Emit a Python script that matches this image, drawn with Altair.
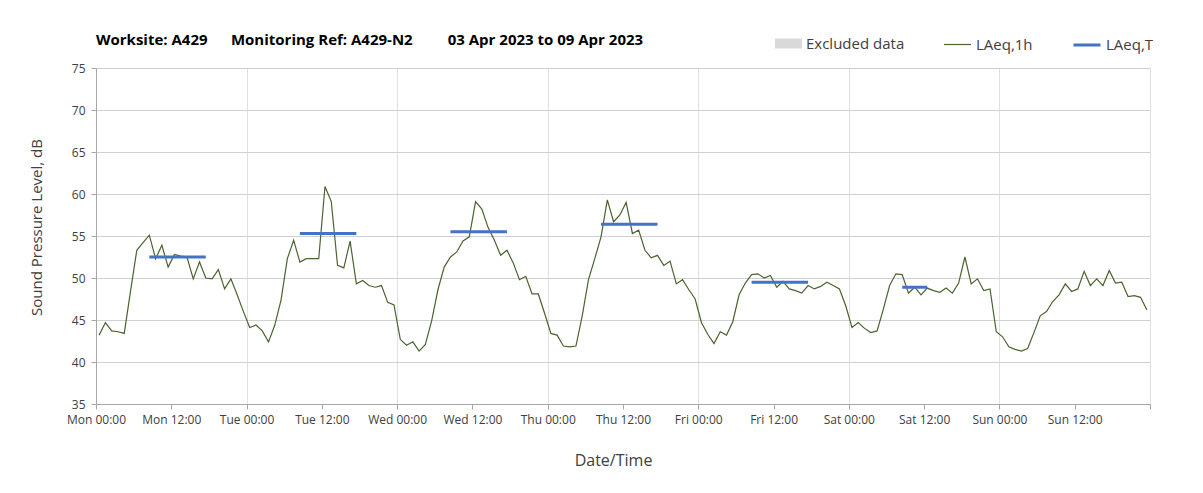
import altair as alt
import pandas as pd

# ---- data ----
days = ["Mon", "Tue", "Wed", "Thu", "Fri", "Sat", "Sun"]
mon = [43.2, 44.7, 43.7, 43.6, 43.4, 48.4, 53.3, 54.2, 55.1, 52.3, 53.9, 51.3,
       52.8, 52.6, 52.5, 49.9, 51.9, 50.0, 49.9, 51.0, 48.7, 49.9, 48.0, 46.0]
tue = [44.1, 44.4, 43.7, 42.4, 44.4, 47.4, 52.3, 54.5, 51.9, 52.3, 52.3, 52.3,
       60.9, 59.1, 51.5, 51.2, 54.4, 49.3, 49.7, 49.1, 48.9, 49.1, 47.1, 46.8]
wed = [42.7, 42.0, 42.4, 41.3, 42.1, 44.9, 48.6, 51.3, 52.5, 53.1, 54.4, 54.9,
       59.1, 58.2, 56.0, 54.5, 52.7, 53.3, 51.8, 49.8, 50.2, 48.1, 48.1, 45.8]
thu = [43.4, 43.2, 41.9, 41.8, 41.9, 45.5, 49.8, 52.3, 54.9, 59.3, 56.7, 57.5,
       59.0, 55.3, 55.7, 53.3, 52.4, 52.7, 51.5, 52.0, 49.3, 49.8, 48.6, 47.5]
fri = [44.7, 43.3, 42.2, 43.6, 43.2, 44.8, 48.0, 49.4, 50.4, 50.5, 50.0, 50.3,
       48.9, 49.6, 48.7, 48.5, 48.2, 49.1, 48.7, 49.0, 49.5, 49.1, 48.7, 46.7]
sat = [44.1, 44.7, 44.0, 43.5, 43.7, 46.3, 49.1, 50.5, 50.4, 48.2, 48.9, 48.0,
       48.8, 48.5, 48.3, 48.8, 48.2, 49.4, 52.5, 49.3, 49.9, 48.5, 48.7, 43.6]
sun = [43.0, 41.8, 41.5, 41.3, 41.6, 43.5, 45.5, 46.0, 47.2, 48.0, 49.3, 48.4,
       48.7, 50.8, 49.1, 49.9, 49.1, 50.9, 49.4, 49.5, 47.8, 47.9, 47.7, 46.2]

laeqT_days = ["Mon", "Tue", "Wed", "Thu", "Fri", "Sat"]
laeqT_values = [52.5, 55.3, 55.5, 56.4, 49.5, 48.9]
laeqT_start = ["08:30", "08:30", "08:30", "08:30", "08:30", "08:30"]
laeqT_end = ["17:30", "17:30", "17:30", "17:30", "17:30", "12:30"]

y_ticks = [35, 40, 45, 50, 55, 60, 65, 70, 75]

# ---- tables ----
week_start = pd.Timestamp("2023-04-03T00:00:00")
hourly = mon + tue + wed + thu + fri + sat + sun
times = [(week_start + pd.Timedelta(minutes=30 + 60 * i)).strftime("%Y-%m-%dT%H:%M:%SZ")
         for i in range(len(hourly))]
df_1h = pd.DataFrame({"t": times, "L": hourly, "series": "LAeq,1h"})

starts, ends = [], []
for d, s, e in zip(laeqT_days, laeqT_start, laeqT_end):
    day = week_start + pd.Timedelta(days=days.index(d))
    starts.append(pd.Timestamp(f"{day.date()}T{s}:00").strftime("%Y-%m-%dT%H:%M:%SZ"))
    ends.append(pd.Timestamp(f"{day.date()}T{e}:00").strftime("%Y-%m-%dT%H:%M:%SZ"))
df_T = pd.DataFrame({"start": starts, "end": ends, "L": laeqT_values, "series": "LAeq,T"})

df_ex = pd.DataFrame({"start": [], "end": [], "series": []})

# ---- scales / axes ----
FONT = "Open Sans"
TXT = "#404040"
x_vals = [alt.DateTime(year=2023, month=4, date=3 + k // 2, hours=12 * (k % 2), utc=True)
          for k in range(15)]
x_scale = alt.Scale(type="utc",
                    domain=[alt.DateTime(year=2023, month=4, date=3, hours=0, utc=True),
                            alt.DateTime(year=2023, month=4, date=10, hours=0, utc=True)])
x_axis = alt.Axis(values=x_vals, format="%a %H:%M", labelFlush=False, labelOverlap=False,
                  labelExpr="datum.value >= utc(2023,3,10) ? '' : datum.label",
                  tickSize=5, tickColor="#a6a6a6", domainColor="#a6a6a6",
                  gridColor={"condition": {"test": "utchours(datum.value) == 0",
                                           "value": "#e0e0e0"},
                             "value": "rgba(0,0,0,0)"},
                  labelFontSize=12, labelPadding=5,
                  titleFontSize=16, titlePadding=27, titleX=517)
y_scale = alt.Scale(domain=[35, 75], nice=False, zero=False)
y_axis = alt.Axis(values=y_ticks, tickSize=5, tickColor="#a6a6a6", domainColor="#a6a6a6",
                  gridColor="#d0d0d0", labelFontSize=12, labelPadding=6,
                  titleFontSize=15, titlePadding=27, titleY=159)

X_T = "Date/Time"
Y_T = "Sound Pressure Level, dB"

ex_layer = alt.Chart(df_ex).mark_rect().encode(
    x=alt.X("start:T", scale=x_scale, axis=x_axis, title=X_T),
    x2="end:T",
    fill=alt.Fill("series:N",
                  scale=alt.Scale(domain=["Excluded data"], range=["#d9d9d9"]),
                  legend=alt.Legend(orient="none", legendX=679, legendY=-38, title=None,
                                    direction="horizontal",
                                    symbolType="M-1,-0.37H1V0.37H-1Z", symbolSize=729,
                                    symbolStrokeWidth=0,
                                    labelFont=FONT, labelFontSize=15, labelColor=TXT)),
)

line_layer = alt.Chart(df_1h).mark_line(strokeWidth=1.2).encode(
    x=alt.X("t:T", scale=x_scale, axis=x_axis, title=X_T),
    y=alt.Y("L:Q", scale=y_scale, axis=y_axis, title=Y_T),
    stroke=alt.Stroke("series:N",
                      scale=alt.Scale(domain=["LAeq,1h"], range=["#4a6330"]),
                      legend=alt.Legend(orient="none", legendX=847, legendY=-38, title=None,
                                        direction="horizontal",
                                        symbolType="stroke", symbolSize=729,
                                        symbolStrokeWidth=1.2,
                                        labelFont=FONT, labelFontSize=15, labelColor=TXT)),
)

rule_layer = alt.Chart(df_T).mark_rule(strokeWidth=3).encode(
    x=alt.X("start:T", scale=x_scale, axis=x_axis, title=X_T),
    x2="end:T",
    y=alt.Y("L:Q", scale=y_scale, axis=y_axis, title=Y_T),
    color=alt.Color("series:N",
                    scale=alt.Scale(domain=["LAeq,T"], range=["#4472c4"]),
                    legend=alt.Legend(orient="none", legendX=976, legendY=-38, title=None,
                                      direction="horizontal",
                                      symbolType="stroke", symbolSize=729,
                                      symbolStrokeWidth=3,
                                      labelFont=FONT, labelFontSize=15, labelColor=TXT)),
)

title_text = ("Worksite: A429" + "\u00a0" * 6 + "Monitoring Ref: A429-N2" + "\u00a0" * 9 +
              "03 Apr 2023 to 09 Apr 2023")

chart = alt.layer(ex_layer, line_layer, rule_layer).properties(
    width=1054, height=336,
    title=alt.TitleParams(text=title_text, anchor="start", frame="group", font=FONT,
                          fontSize=15, fontWeight="bold", color="black", offset=-18),
    padding={"left": 88, "top": 60, "right": 40, "bottom": 70},
    autosize=alt.AutoSizeParams(type="none"),
).configure_view(strokeWidth=0).configure_axis(
    labelFont=FONT, titleFont=FONT, labelColor=TXT, titleColor=TXT,
    titleFontWeight="normal"
)

chart.save("out.html", embed_options={"renderer": "svg", "actions": False})
